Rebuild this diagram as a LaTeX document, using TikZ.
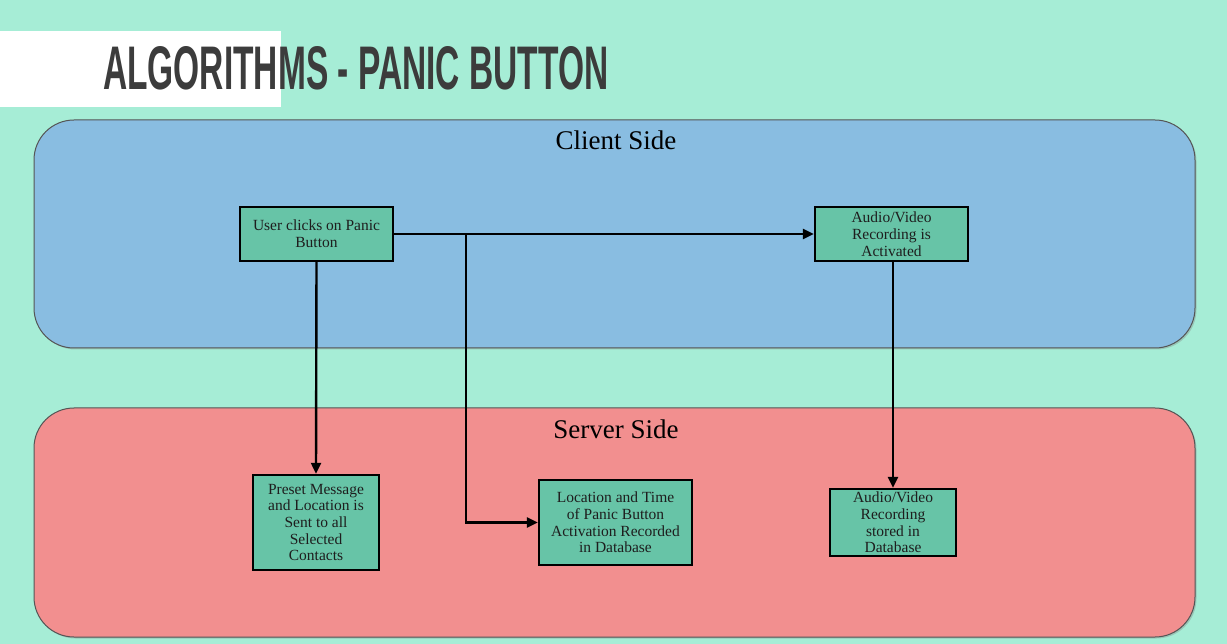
\documentclass[tikz,border=0pt]{standalone}
\usepackage{fontspec}
\usepackage{graphicx}
\setmainfont{Liberation Serif}
\newfontfamily\titlefont{Liberation Sans}
\usetikzlibrary{arrows.meta,shadows}
\definecolor{bgc}{HTML}{A6EDD6}
\definecolor{bluec}{HTML}{89BDE1}
\definecolor{redc}{HTML}{F28F8F}
\definecolor{boxc}{HTML}{67C4A7}
\definecolor{titlec}{HTML}{3C3C3C}
\definecolor{edgec}{HTML}{555555}
\definecolor{textc}{HTML}{1E1E1E}
\tikzset{
  region/.style={draw=edgec, line width=1pt, rounded corners=40pt, drop shadow={shadow xshift=1.5pt, shadow yshift=-1.5pt, opacity=0.35}},
  stepbox/.style={draw=black, line width=2.4pt, fill=boxc, align=center, inner sep=2pt, text=textc, font=\fontsize{15.5}{16.7}\selectfont},
  arr/.style={draw=black, line width=2.4pt, -{Triangle[length=11pt,width=10pt]}},
  regionlabel/.style={font=\fontsize{27}{30}\selectfont, text=black}
}
\begin{document}
\begin{tikzpicture}[x=1pt,y=-1pt]
\useasboundingbox (0,0) rectangle (1227,644);
\fill[bgc] (0,0) rectangle (1227,644);
\fill[white] (0,31) rectangle (281,107);
\node[anchor=south west, inner sep=0pt, text=titlec] (title) at (103,90) {\resizebox{505pt}{43pt}{\titlefont\bfseries ALGORITHMS - PANIC BUTTON}};
\path[region, fill=bluec] (34,120) rectangle (1195,348);
\path[region, fill=redc] (34,408) rectangle (1195,637);
\node[regionlabel] (client) at (616,140) {Client Side};
\node[regionlabel] (server) at (616,429) {Server Side};
\node[stepbox, minimum width=153pt, minimum height=54pt] (b1) at (316.5,234) {User clicks on Panic\\Button};
\node[stepbox, minimum width=153pt, minimum height=54pt] (b2) at (891.5,234) {Audio/Video\\Recording is\\Activated};
\node[stepbox, minimum width=126pt, minimum height=95pt] (b3) at (316,522.5) {Preset Message\\and Location is\\Sent to all\\Selected\\Contacts};
\node[stepbox, minimum width=153pt, minimum height=85pt] (b4) at (615.5,522.5) {Location and Time\\of Panic Button\\Activation Recorded\\in Database};
\node[stepbox, minimum width=126pt, minimum height=67pt] (b5) at (893,522.5) {Audio/Video\\Recording\\stored in\\Database};
\coordinate (j1) at (466,234);
\coordinate (j2) at (466,522.5);
\draw[arr] (b1.east) -- (b2.west);
\draw[arr] (b1.south) -- (b3.north);
\draw[arr] (j1) -- (j2) -- (b4.west);
\draw[arr] (b2.south -| b5.north) -- (b5.north);
\end{tikzpicture}
\end{document}
